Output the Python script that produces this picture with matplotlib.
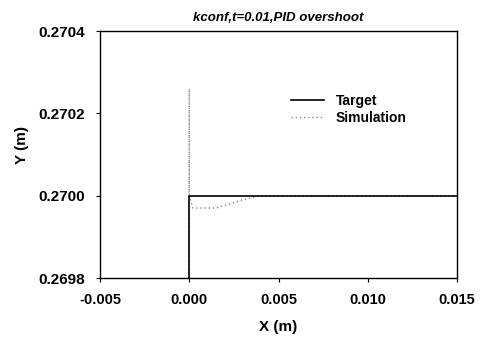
import matplotlib.pyplot as plt

plt.rcParams["font.family"] = ["Liberation Sans", "DejaVu Sans"]

# step target and PID response
target_x = [0.0, 0.0, 0.015]
target_y = [0.2698, 0.2700, 0.2700]

sim_x = [0.0, 0.0, 0.0, 0.0002, 0.0008, 0.0015, 0.0023, 0.0030, 0.0040, 0.0060, 0.0100, 0.0150]
sim_y = [0.2698, 0.27026, 0.27000, 0.26997, 0.26997, 0.26997, 0.26998, 0.26999, 0.27000, 0.27000, 0.27000, 0.27000]

x_ticks = [-0.005, 0.000, 0.005, 0.010, 0.015]
y_ticks = [0.2698, 0.2700, 0.2702, 0.2704]

fig = plt.figure(figsize=(4.81, 3.38), dpi=100)
ax = fig.add_axes([100 / 481, 1 - 278 / 338, 357 / 481, 247 / 338])

ax.plot(sim_x, sim_y, color="#888888", linestyle=(0, (1, 2)), linewidth=1.0, label="Simulation")
ax.plot(target_x, target_y, color="black", linewidth=1.2, label="Target")

ax.set_xlim(-0.005, 0.015)
ax.set_ylim(0.2698, 0.2704)
ax.set_xticks(x_ticks)
ax.set_xticklabels([f"{v:.3f}" for v in x_ticks], fontsize=10.5, fontweight="bold")
ax.set_yticks(y_ticks)
ax.set_yticklabels([f"{v:.4f}" for v in y_ticks], fontsize=11, fontweight="bold")
ax.tick_params(direction="out", length=3, width=0.8)
ax.tick_params(axis="x", pad=8)
ax.tick_params(axis="y", pad=8)

for spine in ax.spines.values():
    spine.set_linewidth(1.0)

ax.set_xlabel("X (m)", fontsize=11, fontweight="bold", labelpad=9)
ax.set_ylabel("Y (m)", fontsize=11, fontweight="bold")
ax.yaxis.set_label_coords(-0.2, 0.54)
ax.set_title("kconf,t=0.01,PID overshoot", fontsize=9.5, fontweight="bold", style="italic", pad=7)

handles, labels = ax.get_legend_handles_labels()
ax.legend(handles[::-1], labels[::-1], loc="upper left", bbox_to_anchor=(0.50, 0.795),
          frameon=False, prop={"size": 10, "weight": "bold"},
          handlelength=2.4, labelspacing=0.2, handletextpad=0.8)

fig.savefig("out.png", dpi=100)
